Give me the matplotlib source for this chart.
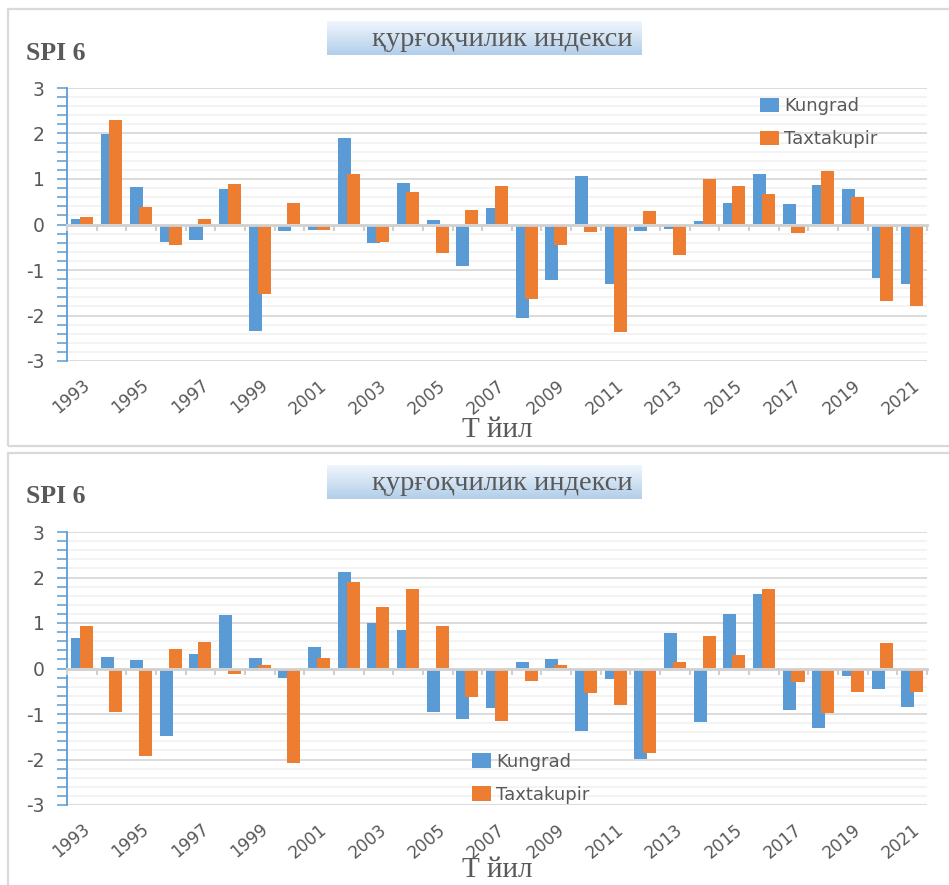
import numpy as np
import matplotlib
matplotlib.use("Agg")
import matplotlib.pyplot as plt
from matplotlib.patches import Rectangle
from matplotlib.ticker import MultipleLocator

years = list(range(1993, 2022))
series_names = ["Kungrad", "Taxtakupir"]

# Top panel values
kungrad_top = [0.12, 1.98, 0.82, -0.38, -0.35, 0.77, -2.34, -0.15, -0.12, 1.91,
               -0.40, 0.91, 0.10, -0.91, 0.36, -2.06, -1.23, 1.06, -1.31, -0.15,
               -0.09, 0.08, 0.47, 1.12, 0.45, 0.87, 0.78, -1.17, -1.31]
taxta_top = [0.16, 2.30, 0.39, -0.44, 0.12, 0.89, -1.53, 0.47, -0.12, 1.12,
             -0.38, 0.72, -0.63, 0.31, 0.85, -1.64, -0.45, -0.17, -2.37, 0.29,
             -0.66, 1.01, 0.85, 0.66, -0.19, 1.17, 0.61, -1.68, -1.80]

# Bottom panel values
kungrad_bot = [0.67, 0.26, 0.18, -1.48, 0.32, 1.18, 0.22, -0.20, 0.47, 2.12,
               1.00, 0.84, -0.95, -1.12, -0.86, 0.15, 0.21, -1.37, -0.22, -1.99,
               0.77, -1.18, 1.20, 1.64, -0.92, -1.31, -0.17, -0.45, -0.84]
taxta_bot = [0.94, -0.95, -1.93, 0.43, 0.58, -0.11, 0.07, -2.08, 0.23, 1.91,
             1.35, 1.74, 0.94, -0.63, -1.15, -0.28, 0.07, -0.53, -0.81, -1.85,
             0.15, 0.71, 0.30, 1.74, -0.30, -0.97, -0.52, 0.55, -0.52]

title_text = "қурғоқчилик индекси"
ylabel_text = "SPI 6"
xlabel_text = "Т йил"

BLUE = "#5B9BD5"
ORANGE = "#ED7D31"
GREY_TXT = "#595959"
SERIF = ["Liberation Serif", "DejaVu Serif"]

W, H = 949, 885
fig = plt.figure(figsize=(W / 100, H / 100), dpi=100)
fig.patch.set_facecolor("white")


def fx(px):
    return px / W


def fy(py):
    return 1 - py / H


def panel(top_off, kvals, tvals, legend_anchor, xlabel_y):
    # panel border
    fig.patches.append(Rectangle((fx(8), fy(top_off + 437)), fx(960 - 8), (437) / H,
                                 transform=fig.transFigure, fill=False,
                                 edgecolor="#D9D9D9", lw=1.6, zorder=0))
    # axes
    ax_top, ax_bot = top_off + 79, top_off + 352
    ax = fig.add_axes([fx(67), fy(ax_bot), fx(927 - 67), (ax_bot - ax_top) / H])
    x = np.arange(len(years))
    ax.bar(x - 0.15, kvals, width=0.44, color=BLUE, label=series_names[0], zorder=3)
    ax.bar(x + 0.15, tvals, width=0.44, color=ORANGE, label=series_names[1], zorder=4)
    ax.set_xlim(-0.5, len(years) - 0.5)
    ax.set_ylim(-3, 3)
    ax.yaxis.set_major_locator(MultipleLocator(1))
    ax.yaxis.set_minor_locator(MultipleLocator(0.2))
    ax.grid(which="major", axis="y", color="#D9D9D9", lw=1.3, zorder=0)
    ax.grid(which="minor", axis="y", color="#F0F0F0", lw=1.1, zorder=0)
    for s in ["top", "right", "bottom"]:
        ax.spines[s].set_visible(False)
    ax.spines["left"].set_color(BLUE)
    ax.spines["left"].set_linewidth(1.3)
    ax.tick_params(axis="y", which="both", direction="out", length=7,
                   color=BLUE, width=1.1, labelsize=13.5, labelcolor=GREY_TXT, pad=9)
    ax.set_yticks([-3, -2, -1, 0, 1, 2, 3])
    ax.set_yticklabels(["-3", "-2", "-1", "0", "1", "2", "3"])
    ax.set_xticks(x[::2])
    ax.set_xticklabels([str(y) for y in years[::2]], rotation=40, ha="right",
                       va="top", rotation_mode="anchor", fontsize=12.2,
                       color=GREY_TXT)
    ax.tick_params(axis="x", length=0, pad=11)
    # zero axis line with category ticks
    sec = ax.secondary_xaxis(0, transform=ax.transData)
    sec.set_xticks(np.arange(-0.5, len(years) + 0.5, 1))
    sec.set_xticklabels([])
    sec.tick_params(axis="x", direction="out", length=4, color="#D0D0D0", width=1.5)
    sec.spines["bottom"].set_color("#D0D0D0")
    sec.spines["bottom"].set_linewidth(2)
    sec.set_zorder(5)
    leg = ax.legend(loc="upper left", bbox_to_anchor=legend_anchor, frameon=False,
                    fontsize=13, labelspacing=0.85, handlelength=1.05,
                    handleheight=0.85, handletextpad=0.3, borderpad=0)
    for t in leg.get_texts():
        t.set_color(GREY_TXT)

    # title box with gradient
    tax = fig.add_axes([fx(327), fy(top_off + 46), fx(642 - 327), 34 / H])
    grad = np.linspace(0, 1, 64)[:, None]
    c0 = np.array([0xF0, 0xF6, 0xFC]) / 255
    c1 = np.array([0xB2, 0xCE, 0xEA]) / 255
    img = c0[None, None, :] * (1 - grad[:, :, None]) + c1[None, None, :] * grad[:, :, None]
    img = np.repeat(img, 4, axis=1)
    tax.imshow(img, aspect="auto", extent=[0, 1, 0, 1], origin="upper")
    tax.set_axis_off()
    tax.text(0.556, 0.47, title_text, ha="center", va="center", fontsize=20.5,
             family=SERIF, color=GREY_TXT, transform=tax.transAxes)

    fig.text(fx(26), fy(top_off + 44), ylabel_text, ha="left", va="center",
             fontsize=18.5, fontweight="bold", family=SERIF, color=GREY_TXT)
    fig.text(fx(497), fy(xlabel_y), xlabel_text, ha="center", va="center",
             fontsize=21, family=SERIF, color=GREY_TXT)
    return ax


panel(9, kungrad_top, taxta_top, (0.795, 1.0), 430)
panel(453, kungrad_bot, taxta_bot, (0.46, 0.225), 870)

fig.savefig("out.png", dpi=100)
